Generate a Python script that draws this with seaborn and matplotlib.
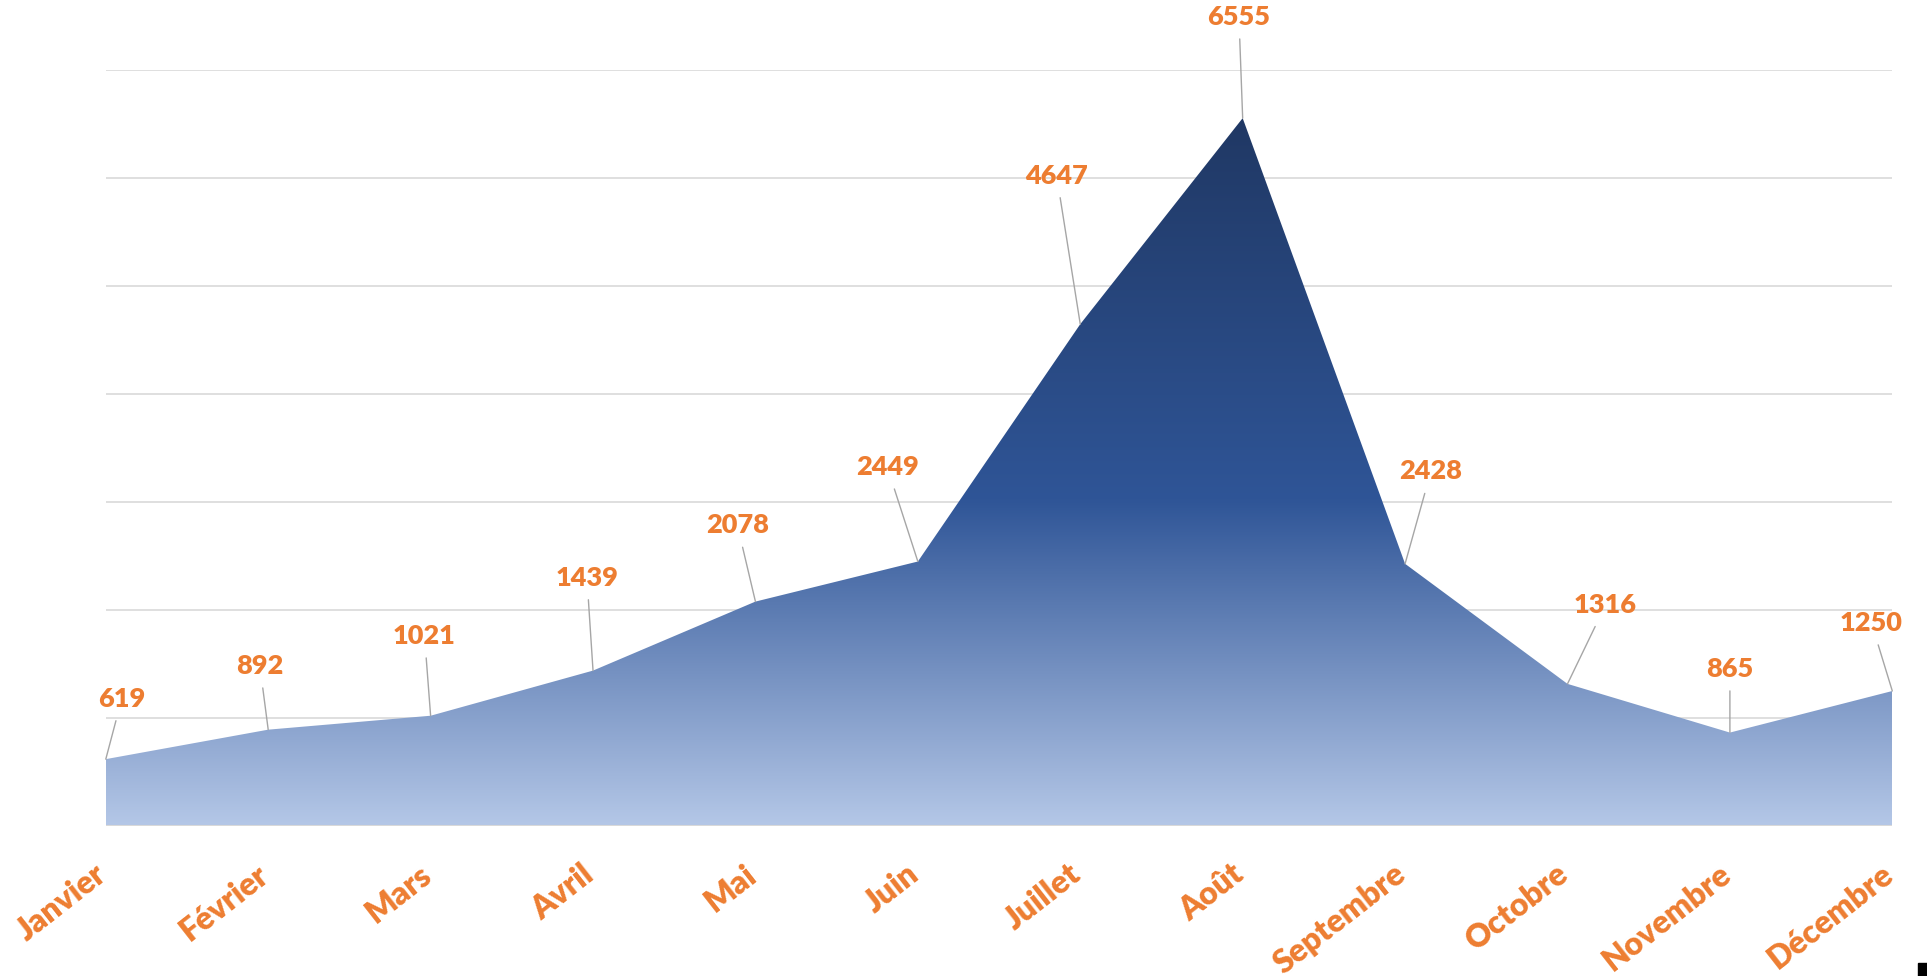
import numpy as np
import pandas as pd
import seaborn as sns
import matplotlib.pyplot as plt
import matplotlib.transforms as mtransforms
from matplotlib.colors import LinearSegmentedColormap
from matplotlib.patches import Rectangle

# Data
months = ['Janvier', 'Février', 'Mars', 'Avril', 'Mai', 'Juin',
          'Juillet', 'Août', 'Septembre', 'Octobre', 'Novembre', 'Décembre']
values = [619, 892, 1021, 1439, 2078, 2449, 4647, 6555, 2428, 1316, 865, 1250]

# where each data label sits relative to its point (points)
label_offsets = [(11.5, 43.5), (-6, 46), (-4.4, 57.6), (-4.4, 67), (-13, 55), (-22, 68),
                 (-17, 107), (-2.7, 73), (18.6, 66.5), (27.4, 56.8), (0, 46), (-15, 49)]

df = pd.DataFrame({'mois': months, 'valeur': values, 'pos': range(len(months))})

sns.set_style('white')
plt.rcParams['font.family'] = ['Lato', 'DejaVu Sans']

orange = '#ed7d31'

fig = plt.figure(figsize=(19.27, 9.76), dpi=100)
ax = fig.add_axes([0.0549, 0.1537, 0.9271, 0.7745])

sns.lineplot(data=df, x='pos', y='valeur', ax=ax, color='#203864', linewidth=0)

# area with a vertical gradient, clipped to the filled shape
area = ax.fill_between(df['pos'], df['valeur'], 0, color='none', linewidth=0)
cmap = LinearSegmentedColormap.from_list(
    'fill', [(0, '#b4c7e7'), (0.46, '#2f5597'), (1, '#203864')])
grad = np.linspace(0, 1, 256).reshape(-1, 1)
img = ax.imshow(grad, extent=[0, len(months) - 1, 0, max(values)], origin='lower',
                aspect='auto', cmap=cmap, zorder=2)
img.set_clip_path(area.get_paths()[0], transform=ax.transData)

ax.set_xlim(0, len(months) - 1)
ax.set_ylim(0, 7000)
ax.set_yticks(range(0, 7001, 1000))
ax.yaxis.grid(True, color='#d9d9d9', linewidth=1.2)
ax.set_axisbelow(True)
ax.axhline(0, color='#d9d9d9', linewidth=1.5, zorder=3)
sns.despine(ax=ax, left=True, bottom=True)

ax.set_xticks(df['pos'])
ax.set_xticklabels(months, rotation=38, ha='right', va='top', color=orange,
                   fontsize=23, fontweight='heavy')
ax.tick_params(axis='x', length=0, pad=24)
ax.tick_params(axis='y', length=0, labelleft=False)
ax.set_xlabel('')
ax.set_ylabel('')

shift = mtransforms.ScaledTranslation(6 / 100, 0, fig.dpi_scale_trans)
for lbl in ax.get_xticklabels():
    lbl.set_transform(lbl.get_transform() + shift)

for x, v, (dx, dy) in zip(df['pos'], values, label_offsets):
    ax.annotate(str(v), xy=(x, v), xytext=(dx, dy), textcoords='offset points',
                ha='center', va='center', fontsize=19.5, fontweight='heavy', color=orange,
                arrowprops=dict(arrowstyle='-', color='#a6a6a6', lw=1, shrinkA=5, shrinkB=0),
                zorder=5, annotation_clip=False)

fig.patches.append(Rectangle((0.9953, 0), 0.0047, 0.0133, transform=fig.transFigure,
                             color='black'))

fig.savefig('out.png', dpi=100)
